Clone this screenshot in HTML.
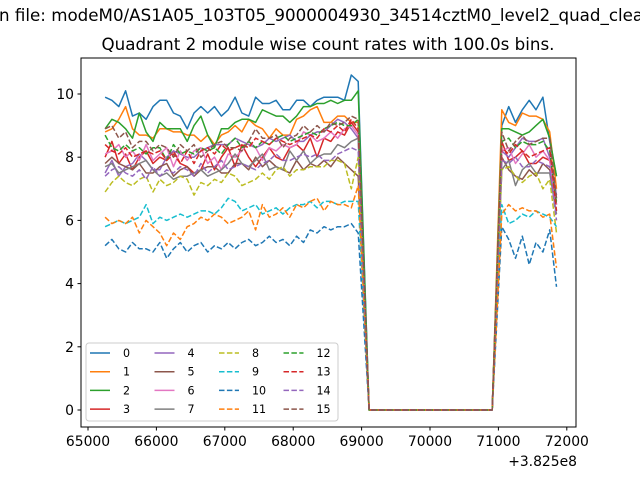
<!DOCTYPE html>
<html><head><meta charset="utf-8"><style>
body{margin:0;background:#fff;}
svg{font-family:"DejaVu Sans","Liberation Sans",sans-serif;}
</style></head><body>
<svg id="chart" width="640" height="480" viewBox="0 0 640 480" xmlns="http://www.w3.org/2000/svg">
<rect width="640" height="480" fill="#fff"/>
<text x="-1" y="21" font-size="16.7">n file: modeM0/AS1A05_103T05_9000004930_34514cztM0_level2_quad_clean.evt</text>
<text x="328" y="50" font-size="16.7" text-anchor="middle">Quadrant 2 module wise count rates with 100.0s bins.</text>
<g id="plot"></g>
<rect x="81" y="58" width="495" height="369" fill="none" stroke="#000" stroke-width="1"/>
<g id="xt"></g>
<g id="yt"></g>
<text x="577" y="466" font-size="13.9" text-anchor="end">+3.825e8</text>
<g id="legend"></g>
</svg>
<script>
const seg1Start = 65250, seg1Count = 38, gapStart = 69110, gapCount = 19, seg2Start = 71050, seg2Count = 9, binWidth = 100;
const xTicks = [65000,66000,67000,68000,69000,70000,71000,72000];
const yTicks = [0,2,4,6,8,10];
const seriesLabels = ["0","1","2","3","4","5","6","7","8","9","10","11","12","13","14","15"];
const s0 = [9.9,9.8,9.6,10.1,9.3,9.4,9.2,9.6,9.8,9.8,9.4,9.3,8.9,9.4,9.6,9.4,9.6,9.3,9.5,9.9,9.4,9.3,9.9,9.7,9.7,9.8,9.5,9.5,9.8,9.8,9.6,9.8,9.9,9.9,9.9,9.8,10.6,10.4, 9.0,9.6,9.1,9.5,9.8,9.5,9.9,8.5,7.4];
const s1 = [8.8,8.9,9.2,9.6,8.9,8.7,8.7,8.6,8.9,8.9,8.8,8.8,8.7,8.7,8.5,8.7,8.4,8.7,8.8,9.0,8.8,9.2,9.0,8.9,8.6,8.9,8.7,8.7,9.2,9.3,9.5,9.6,9.1,9.1,9.3,9.3,9.1,9.1, 9.5,9.1,9.0,9.4,9.3,9.3,9.2,8.8,7.0];
const s2 = [8.9,9.2,9.1,8.9,8.6,9.4,8.8,8.5,9.1,8.9,8.9,8.9,8.5,9.0,9.3,8.7,8.3,8.9,8.9,9.1,9.2,9.2,9.1,9.5,9.4,9.3,9.3,9.1,9.3,9.6,9.6,9.7,9.7,9.8,9.7,9.8,9.8,10.1, 8.9,8.9,8.8,8.7,8.8,9.0,9.2,8.6,7.4];
const s3 = [8.0,8.5,7.8,8.1,7.6,8.0,8.2,7.8,8.0,7.9,8.2,7.8,7.7,7.5,7.6,8.1,7.6,8.0,8.3,7.7,8.4,8.0,7.7,8.0,8.3,8.0,7.9,8.3,8.4,8.2,8.6,8.0,8.6,8.5,8.8,8.7,9.1,8.8, 8.5,7.9,8.0,8.2,7.8,7.8,8.0,7.9,6.5];
const s4 = [7.5,7.9,7.4,7.7,7.8,8.1,7.9,7.6,7.6,8.0,8.2,8.1,8.0,8.0,8.2,8.3,8.4,8.4,8.4,8.6,8.5,8.4,8.3,8.4,8.6,8.5,8.6,8.7,8.5,8.5,8.7,8.8,8.8,9.0,9.2,9.1,8.9,8.6, 8.2,8.0,8.3,8.6,8.5,8.5,8.6,8.0,6.8];
const s5 = [7.8,8.0,7.8,7.7,7.6,7.8,7.5,7.5,7.7,7.8,7.4,7.6,7.7,7.4,7.6,7.7,7.7,7.5,7.5,7.8,7.8,7.6,8.0,7.7,7.9,7.7,7.6,7.5,7.9,7.6,7.8,7.7,7.9,7.7,8.0,7.8,7.6,7.4, 8.0,7.6,7.4,7.3,7.6,7.4,7.8,7.6,6.6];
const s6 = [8.1,8.2,8.4,8.0,8.2,7.9,8.4,7.9,8.1,8.3,7.7,8.2,7.9,8.2,8.3,7.8,8.0,7.6,8.1,8.0,8.2,8.5,8.3,7.9,8.3,8.2,8.4,8.3,8.4,8.8,8.7,8.5,8.6,8.8,8.6,8.9,9.0,8.7, 8.2,8.3,7.8,8.1,8.4,8.0,8.2,7.9,6.5];
const s7 = [7.7,7.8,7.5,7.6,7.7,7.8,7.9,7.6,7.4,7.5,7.3,7.4,7.4,7.5,7.6,7.4,7.5,7.6,7.8,8.1,7.8,7.7,7.9,8.1,7.6,7.7,7.6,8.2,7.9,8.2,7.8,8.0,8.1,8.1,8.4,8.3,8.5,8.6, 7.6,7.9,7.1,7.6,7.8,7.5,7.5,7.5,6.2];
const s8 = [6.9,7.2,7.4,7.2,7.1,7.3,7.4,6.9,7.3,7.1,7.2,7.4,7.3,6.8,7.2,7.1,7.3,7.2,7.5,7.4,7.1,7.2,7.3,7.5,7.3,7.6,7.7,7.4,7.6,7.6,7.7,7.7,7.7,7.9,7.9,7.8,7.0,8.0, 7.6,7.7,7.4,7.2,7.4,7.5,7.0,7.3,5.6];
const s9 = [5.8,5.9,6.0,5.9,6.0,6.1,6.5,5.9,6.1,6.0,6.1,6.2,6.1,6.2,6.3,6.3,6.2,6.4,6.7,6.6,6.3,6.4,6.5,6.2,6.3,6.4,6.2,6.4,6.5,6.5,6.6,6.4,6.6,6.6,6.5,6.6,6.6,6.6, 6.5,5.9,6.0,6.2,6.1,6.3,6.2,6.1,5.8];
const s10 = [5.2,5.4,5.1,5.0,5.3,5.1,5.1,5.0,5.3,4.8,5.1,5.3,5.0,5.2,5.3,5.0,5.2,5.1,5.3,5.1,5.3,5.4,5.2,5.3,5.5,5.3,5.4,5.2,5.5,5.3,5.7,5.6,5.8,5.7,5.8,5.8,5.9,5.6, 5.8,5.4,4.8,5.5,4.6,5.3,5.0,5.7,3.9];
const s11 = [6.1,5.9,6.0,5.9,6.1,5.6,6.0,5.8,5.6,5.2,5.6,5.4,5.8,5.9,6.1,6.0,6.2,6.1,5.9,6.0,6.1,6.3,5.7,6.5,6.1,6.2,6.4,6.1,6.5,6.4,6.6,6.7,6.3,6.6,6.5,6.5,6.4,7.1, 6.2,6.5,6.3,6.4,6.3,6.3,6.1,6.2,4.5];
const s12 = [8.7,8.3,8.2,8.4,8.2,8.3,8.1,8.3,8.3,7.9,8.4,8.1,8.2,8.1,8.3,8.2,8.3,8.1,8.4,8.6,8.3,8.5,8.3,8.5,8.4,8.6,8.7,8.5,8.6,8.7,8.8,8.7,8.9,9.0,9.1,9.0,9.0,9.2, 8.5,8.6,8.3,8.5,8.4,8.4,8.5,8.2,6.5];
const s13 = [8.4,8.2,8.1,8.3,8.0,8.1,8.2,8.1,8.2,7.9,8.1,7.8,8.2,7.8,8.2,8.3,8.1,8.4,8.2,8.3,8.4,8.3,8.6,8.5,8.4,8.6,8.5,8.4,8.5,8.6,8.7,8.6,8.9,8.8,9.0,8.8,9.2,8.9, 8.3,8.1,8.4,8.2,8.0,8.1,8.2,8.3,6.3];
const s14 = [7.4,7.6,7.7,7.5,7.4,7.6,7.3,7.7,7.4,7.6,7.5,7.7,7.6,7.4,7.8,7.5,7.7,7.9,7.6,7.7,7.8,7.7,7.6,7.8,7.9,8.1,7.9,7.9,8.0,8.1,8.0,8.1,7.9,7.9,8.1,8.2,8.3,8.2, 7.9,7.8,8.0,7.7,7.7,7.9,7.8,7.7,6.0];
const s15 = [8.9,9.0,8.6,8.8,8.3,8.5,8.5,8.2,8.4,8.3,8.0,8.4,8.2,8.4,8.0,8.2,8.4,8.5,8.3,8.3,8.2,8.5,8.9,8.6,8.6,8.7,8.3,8.6,8.7,9.0,8.8,9.0,8.8,9.1,9.0,9.1,9.3,9.2, 8.8,8.2,8.5,8.7,8.4,8.5,8.6,8.6,6.7];
const allSeries = [s0,s1,s2,s3,s4,s5,s6,s7,s8,s9,s10,s11,s12,s13,s14,s15];
const colors = ["#1f77b4","#ff7f0e","#2ca02c","#d62728","#9467bd","#8c564b","#e377c2","#7f7f7f","#bcbd22","#17becf"];
const NS="http://www.w3.org/2000/svg";
const xS = t => 88 + (t-65000)*0.0684;
const yS = v => 410 - v*31.6;
function mk(tag, attrs, parent){const e=document.createElementNS(NS,tag);for(const k in attrs)e.setAttribute(k,attrs[k]);parent.appendChild(e);return e;}
const plot=document.getElementById('plot');
allSeries.forEach((vals,si)=>{
  const pts=[];let k=0;
  for(let i=0;i<seg1Count;i++){pts.push([seg1Start+i*binWidth, vals[k++]]);}
  for(let i=0;i<gapCount;i++){pts.push([gapStart+i*binWidth, 0]);}
  for(let i=0;i<seg2Count;i++){pts.push([seg2Start+i*binWidth, vals[k++]]);}
  const d=pts.map((p,i)=>(i?'L':'M')+xS(p[0]).toFixed(1)+','+yS(p[1]).toFixed(1)).join('');
  const a={d:d,fill:'none',stroke:colors[si%10],'stroke-width':1.5,'stroke-linejoin':'round'};
  if(si>=8)a['stroke-dasharray']='5.5,2.4';
  const p=mk('path',a,plot);
  
  
});
const xt=document.getElementById('xt');
xTicks.forEach(t=>{
  const x=xS(t);
  const l=mk('line',{x1:x,x2:x,y1:427,y2:430.5,stroke:'#000'},xt);
  
  
  const tx=mk('text',{x:x,y:446,'font-size':13.9,'text-anchor':'middle'},xt);
  tx.textContent=t;
  
  
});
const yt=document.getElementById('yt');
yTicks.forEach(v=>{
  const y=yS(v);
  const l=mk('line',{x1:77.5,x2:81,y1:y,y2:y,stroke:'#000'},yt);
  
  
  const tx=mk('text',{x:74,y:y+5,'font-size':13.9,'text-anchor':'end'},yt);
  tx.textContent=v;
  
  
});
const lg=document.getElementById('legend');
const box=mk('rect',{x:86,y:343,width:252,height:78,rx:3,fill:'#fff','fill-opacity':0.8,stroke:'#ccc'},lg);


seriesLabels.forEach((lab,i)=>{
  const col=Math.floor(i/4),row=i%4;
  const x0=90+col*64.5,y=353+row*18.7;
  const a={x1:x0,x2:x0+20,y1:y,y2:y,stroke:colors[i%10],'stroke-width':1.5};
  if(i>=8)a['stroke-dasharray']='5.5,2.4';
  const l=mk('line',a,lg);
  
  
  const t=mk('text',{x:x0+33,y:y+4,'font-size':11.1},lg);
  t.textContent=lab;
  
  
});
</script>
</body></html>
